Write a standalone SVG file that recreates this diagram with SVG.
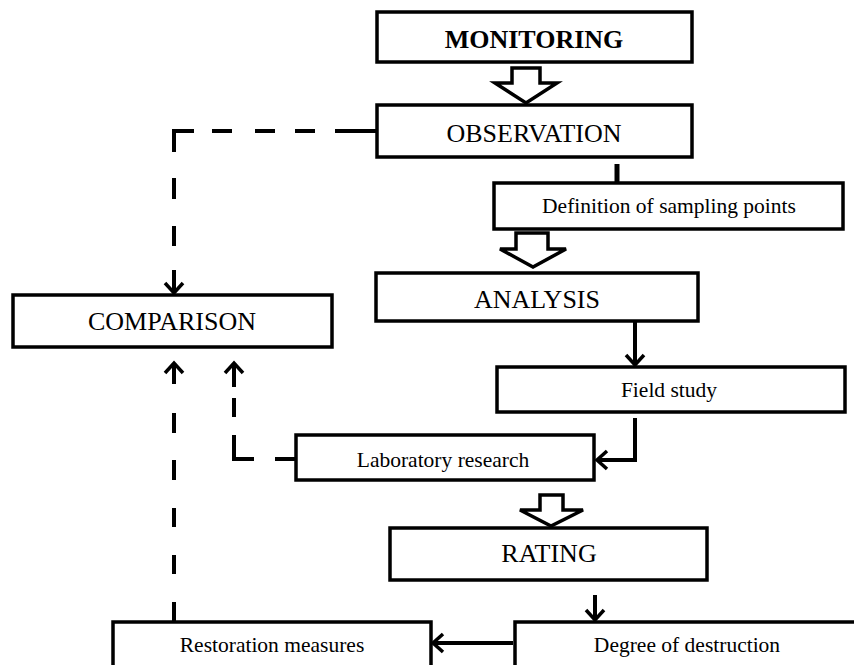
<svg xmlns="http://www.w3.org/2000/svg" width="854" height="665" viewBox="0 0 854 665">
<style>
.box{fill:#fff;stroke:#000;stroke-width:3.5}
.t{font-family:"Liberation Serif","Times New Roman",serif;fill:#000;text-anchor:middle}
.big{font-size:26px}
.sm{font-size:21.5px}
.ln{fill:none;stroke:#000;stroke-width:4}
.blk{fill:#fff;stroke:#000;stroke-width:3.5;stroke-linejoin:miter}
</style>
<defs>
<marker id="ah" markerUnits="userSpaceOnUse" markerWidth="24" markerHeight="24" viewBox="-14 -12 16 24" refX="0" refY="0" orient="auto">
<path d="M-10,-9 L0,0 L-10,9" fill="none" stroke="#000" stroke-width="3.5"/>
</marker>
</defs>
<rect width="854" height="665" fill="#fff"/>
<g id="monitoring"><rect class="box" x="377" y="12" width="315" height="50"/><text class="t big" x="534" y="48" font-weight="bold">MONITORING</text></g>
<g id="observation"><rect class="box" x="377" y="105" width="315" height="52"/><text class="t big" x="534" y="142">OBSERVATION</text></g>
<g id="definition"><rect class="box" x="494" y="183" width="349" height="46"/><text class="t sm" x="669" y="213">Definition of sampling points</text></g>
<g id="analysis"><rect class="box" x="376" y="273" width="322" height="48"/><text class="t big" x="537" y="308">ANALYSIS</text></g>
<g id="comparison"><rect class="box" x="13" y="295" width="319" height="52"/><text class="t big" x="172" y="330">COMPARISON</text></g>
<g id="field"><rect class="box" x="497" y="367" width="348" height="45"/><text class="t sm" x="669" y="397">Field study</text></g>
<g id="lab"><rect class="box" x="296" y="435" width="298" height="45"/><text class="t sm" x="443" y="467">Laboratory research</text></g>
<g id="rating"><rect class="box" x="390" y="528" width="317" height="52"/><text class="t big" x="549" y="562">RATING</text></g>
<g id="restoration"><rect class="box" x="113" y="622" width="318" height="60"/><text class="t sm" x="272" y="652">Restoration measures</text></g>
<g id="degree"><rect class="box" x="515" y="622" width="360" height="60"/><text class="t sm" x="687" y="652">Degree of destruction</text></g>
<g id="connectors">
<polygon class="blk" points="512,68 540,68 540,83 557,83 526,103 495,83 512,83"/>
<polygon class="blk" points="516,233 548,233 548,249 566,249 533,267 500,249 516,249"/>
<polygon class="blk" points="540,495 563,495 563,510 583,510 551,526 520,510 540,510"/>
<line x1="617" y1="164" x2="617" y2="182" stroke="#000" stroke-width="5"/>
<line class="ln" x1="635" y1="321" x2="635" y2="365" marker-end="url(#ah)"/>
<path class="ln" d="M635,418 V460 H597" marker-end="url(#ah)"/>
<line class="ln" x1="595" y1="595" x2="595" y2="620" marker-end="url(#ah)"/>
<line class="ln" x1="513" y1="643" x2="433" y2="643" marker-end="url(#ah)"/>
<!-- OBSERVATION to COMPARISON dashed -->
<line class="ln" x1="377" y1="131" x2="335" y2="131"/>
<line class="ln" x1="315" y1="131" x2="295" y2="131"/>
<line class="ln" x1="275" y1="131" x2="255" y2="131"/>
<line class="ln" x1="232" y1="131" x2="212" y2="131"/>
<path class="ln" d="M194,131 H174 V152"/>
<line class="ln" x1="174" y1="178" x2="174" y2="199"/>
<line class="ln" x1="174" y1="226" x2="174" y2="246"/>
<line class="ln" x1="174" y1="270" x2="174" y2="293" marker-end="url(#ah)"/>
<!-- Restoration to COMPARISON dashed -->
<line class="ln" x1="174" y1="622" x2="174" y2="602"/>
<line class="ln" x1="174" y1="574" x2="174" y2="555"/>
<line class="ln" x1="174" y1="527" x2="174" y2="508"/>
<line class="ln" x1="174" y1="480" x2="174" y2="460"/>
<line class="ln" x1="174" y1="433" x2="174" y2="413"/>
<line class="ln" x1="174" y1="384" x2="174" y2="363" marker-end="url(#ah)"/>
<!-- Lab to COMPARISON dashed -->
<line class="ln" x1="296" y1="459" x2="275" y2="459"/>
<path class="ln" d="M254,459 H234 V435"/>
<line class="ln" x1="234" y1="417" x2="234" y2="398"/>
<line class="ln" x1="234" y1="387" x2="234" y2="363" marker-end="url(#ah)"/>
</g>
</svg>
